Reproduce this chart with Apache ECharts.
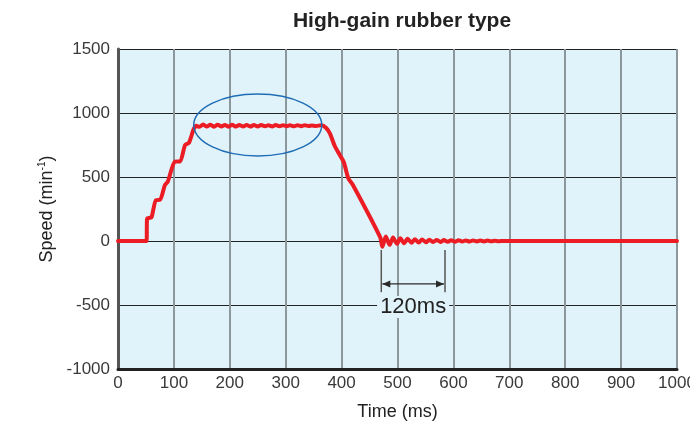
<!DOCTYPE html>
<html>
<head>
<meta charset="utf-8">
<script src="https://cdn.jsdelivr.net/npm/echarts@6/dist/echarts.min.js"></script>
<style>html,body{margin:0;padding:0;background:#fff}#c{width:690px;height:430px}</style>
</head>
<body>
<div id="c"></div>
<script>
const titleText = 'High-gain rubber type';
const xTicks = [0,100,200,300,400,500,600,700,800,900,1000];
const yTicks = [-1000,-500,0,500,1000,1500];

const timeMs = [
  0,51,52,56,60,68,75,84,89,102,111,120,127,135,140,
  146,152,159,165,172,178,185,191,198,204,211,217,224,230,237,243,250,256,263,269,276,282,289,295,302,308,315,321,328,334,341,347,354,360,
  364,372,379,388,397,404,412,420,469,473,
  479,486,492,499,505,512,518,525,531,538,544,551,557,564,570,577,583,590,596,603,609,616,622,629,635,642,648,655,661,668,674,681,690,1000
];
const speed = [
  0,0,175,180,185,320,322,437,463,620,622,750,768,870,900,
  892,910,894,908,893,909,895,907,893,908,894,907,895,906,894,907,895,906,896,905,895,906,896,905,897,904,896,905,897,904,898,903,899,902,
  905,885,840,740,670,615,490,440,30,-45,
  35,-30,28,-22,22,-18,18,-14,14,-12,12,-10,10,-8,8,-7,7,-6,6,-5,5,-4,4,-4,4,-3,3,-3,3,-2,2,-1,0,0
];

const chart = echarts.init(document.getElementById('c'), null, {renderer:'canvas'});
const data = timeMs.map((t,i)=>[t, speed[i]]);
const axisFont = {fontFamily:'Liberation Sans, Arial, sans-serif', fontSize:17, color:'#3a3a3a'};
chart.setOption({
  animation:false,
  title:{text:titleText, left:397, top:6, textAlign:'center',
    textStyle:{fontFamily:'Liberation Sans, Arial, sans-serif', fontWeight:'bold', fontSize:21, color:'#222'}},
  grid:{left:118, right:13, top:49, bottom:61, show:true, backgroundColor:'#e1f3fa', borderWidth:0,
    containLabel:false, outerBoundsMode:'none'},
  xAxis:{type:'value', min:0, max:1000, interval:100,
    name:'Time (ms)', nameLocation:'middle', nameGap:34,
    nameTextStyle:{fontFamily:'Liberation Sans, Arial, sans-serif', fontSize:18, color:'#222'},
    axisLine:{show:true, onZero:false, lineStyle:{color:'#222', width:3}},
    axisTick:{show:false},
    axisLabel:Object.assign({margin:6, formatter:v=>String(v), hideOverlap:false}, axisFont),
    splitLine:{show:true, lineStyle:{color:'#8c979c', width:2}}
  },
  yAxis:{type:'value', min:-1000, max:1500, interval:500,
    name:'{a|Speed (min}{s|-1}{a|)}', nameLocation:'middle', nameGap:58, nameRotate:90,
    nameTextStyle:{rich:{
      a:{fontFamily:'Liberation Sans, Arial, sans-serif', fontSize:18, color:'#222'},
      s:{fontFamily:'Liberation Sans, Arial, sans-serif', fontSize:10, color:'#222', verticalAlign:'top', padding:[0,0,8,0]}
    }},
    axisLine:{show:true, onZero:false, lineStyle:{color:'#555', width:3}},
    axisTick:{show:false},
    axisLabel:Object.assign({margin:8, formatter:v=>String(v)}, axisFont),
    splitLine:{show:true, lineStyle:{color:'#222', width:1}}
  },
  series:[{
    type:'line', data:data, showSymbol:false, smooth:0.25,
    lineStyle:{color:'#ec1c24', width:4, join:'round', cap:'round'},
    z:5
  }]
});

function px(t,v){ return chart.convertToPixel({gridIndex:0}, [t,v]); }
const c = px(250, 906);
const e1 = px(250+114.5, 906+242);
const rx = e1[0]-c[0], ry = c[1]-e1[1];
const aL = px(471, -70), aLb = px(471, -400);
const aR = px(585, -70), aRb = px(585, -400);
const arY = px(0, -335)[1];
const lbl = px(528, -515);
const stroke = '#2a2a2a';
chart.setOption({
  graphic:[
    {type:'ellipse', shape:{cx:c[0], cy:c[1], rx:rx, ry:ry}, style:{fill:null, stroke:'#1f6db5', lineWidth:1.5}, z:10},
    {type:'line', shape:{x1:aL[0], y1:aL[1], x2:aLb[0], y2:aLb[1]}, style:{stroke:'#555', lineWidth:1.5}, z:10},
    {type:'line', shape:{x1:aR[0], y1:aR[1], x2:aRb[0], y2:aRb[1]}, style:{stroke:'#555', lineWidth:1.5}, z:10},
    {type:'line', shape:{x1:aL[0]+1, y1:arY, x2:aR[0]-1, y2:arY}, style:{stroke:stroke, lineWidth:1.3}, z:10},
    {type:'polygon', shape:{points:[[aL[0]+1,arY],[aL[0]+9,arY-3.5],[aL[0]+9,arY+3.5]]}, style:{fill:stroke}, z:10},
    {type:'polygon', shape:{points:[[aR[0]-1,arY],[aR[0]-9,arY-3.5],[aR[0]-9,arY+3.5]]}, style:{fill:stroke}, z:10},
    {type:'text', x:(aL[0]+aR[0])/2, y:lbl[1], style:{text:'120ms', fontFamily:'Liberation Sans, Arial, sans-serif', fontSize:22, fill:'#222',
      textAlign:'center', textVerticalAlign:'middle', backgroundColor:'#e1f3fa', padding:[0,3]}, z:11}
  ]
});
</script>
</body>
</html>
